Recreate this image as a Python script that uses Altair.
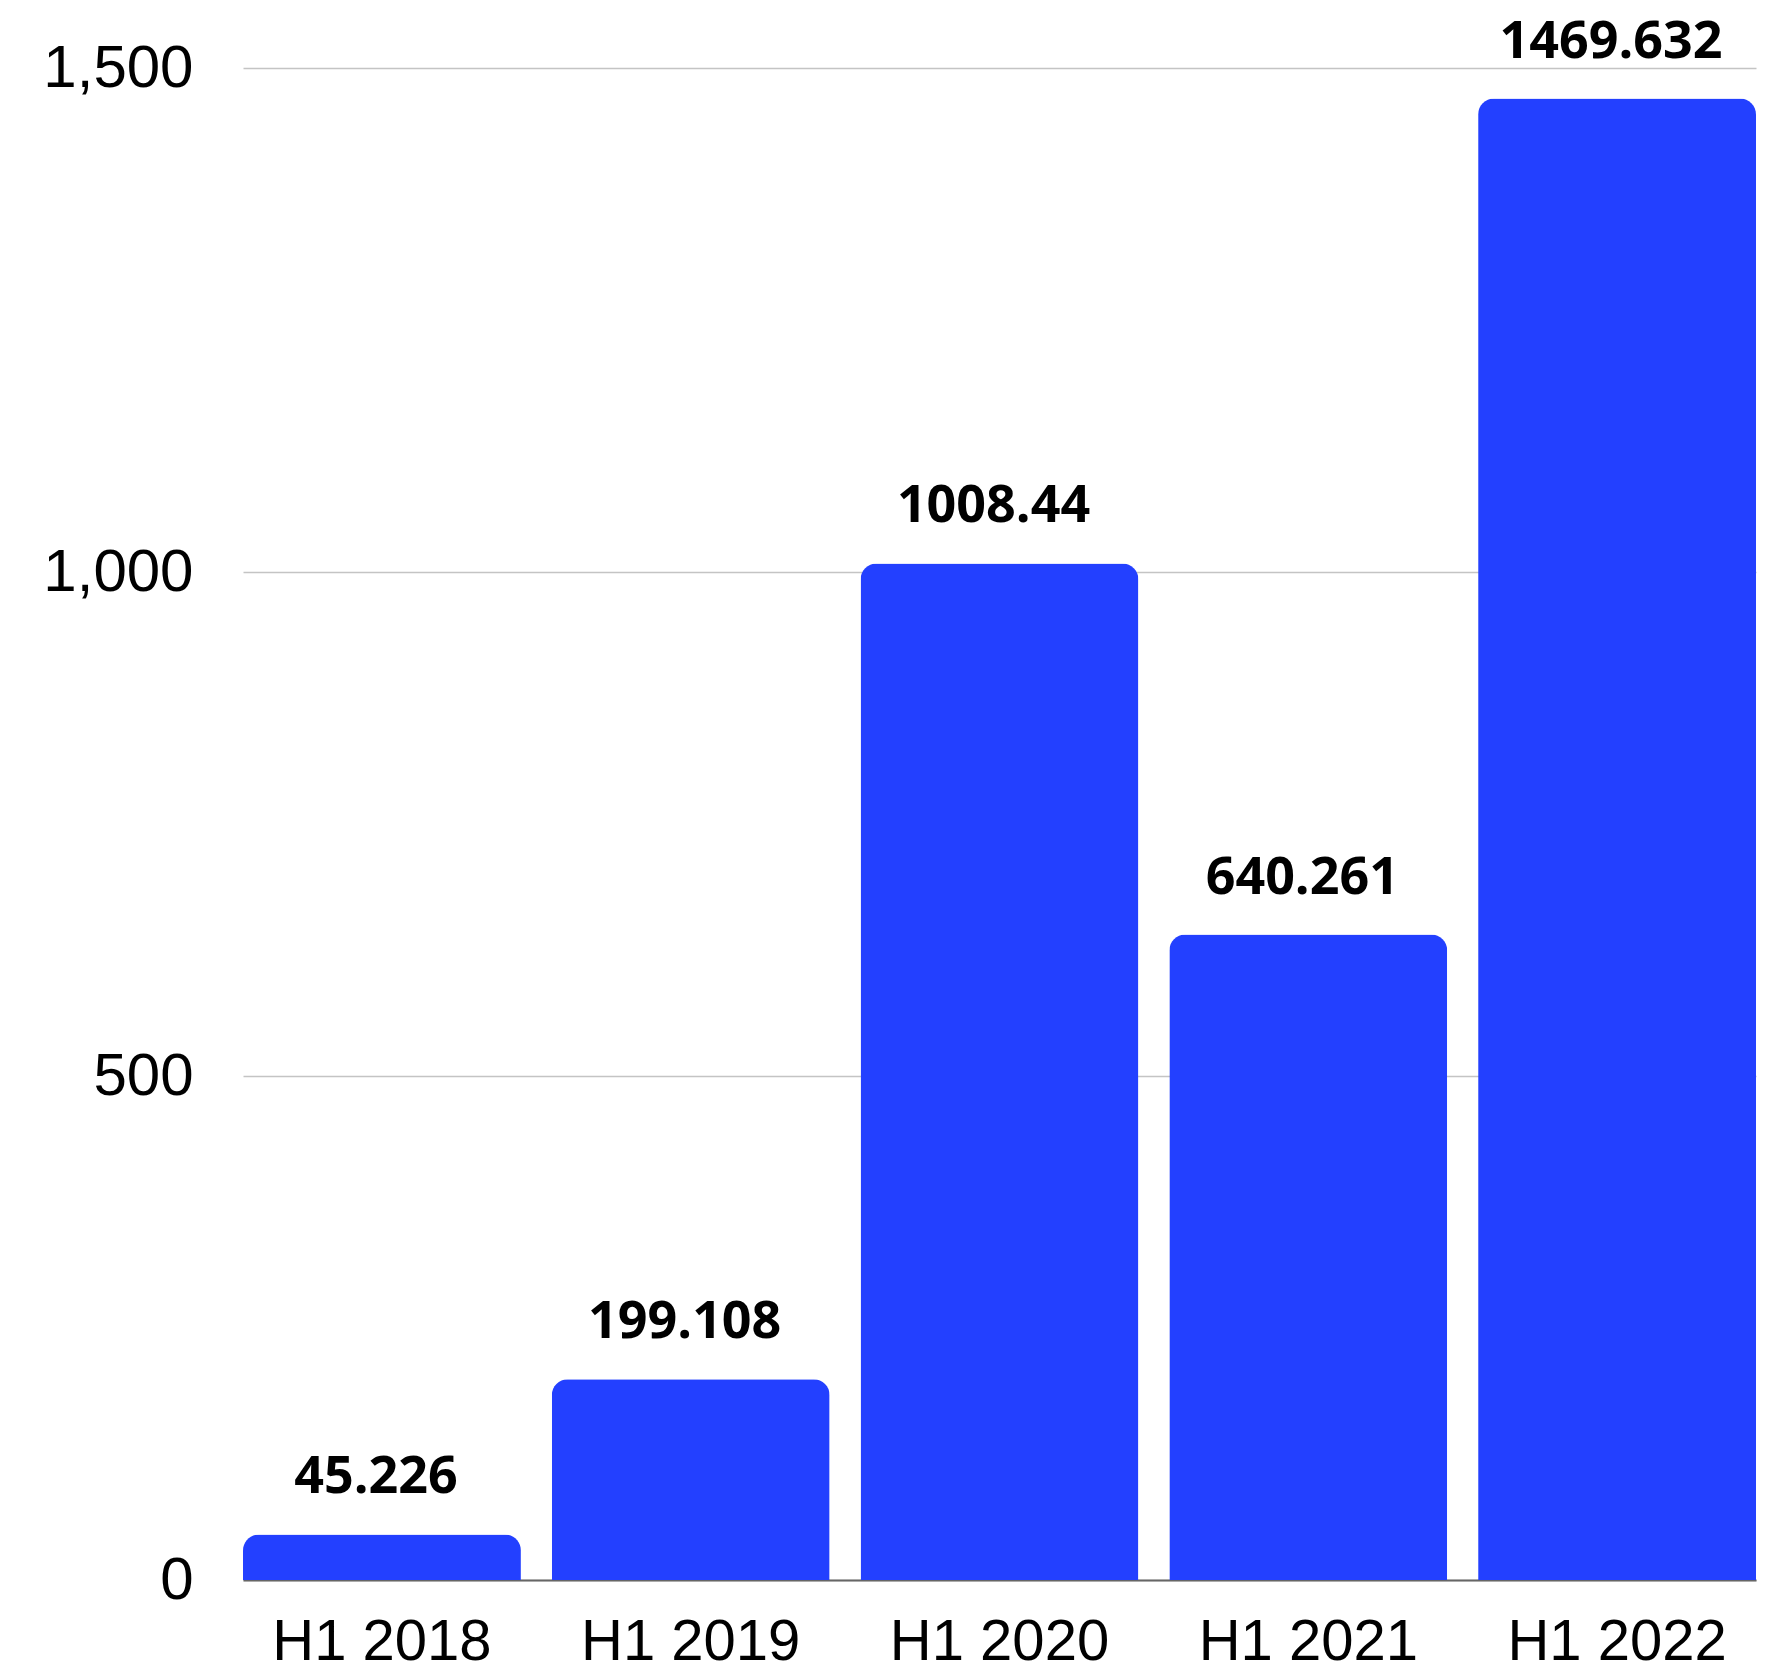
import altair as alt
import pandas as pd

periods = ["H1 2018", "H1 2019", "H1 2020", "H1 2021", "H1 2022"]
values = [45.226, 199.108, 1008.44, 640.261, 1469.632]
value_labels = ["45.226", "199.108", "1008.44", "640.261", "1469.632"]
y_ticks = [0, 500, 1000, 1500]

df = pd.DataFrame({"period": periods, "value": values, "label": value_labels})

x = alt.X(
    "period:N",
    sort=periods,
    title=None,
    scale=alt.Scale(paddingInner=0.1, paddingOuter=0),
    axis=alt.Axis(
        labelFont="Liberation Sans",
        labelFontSize=58,
        labelColor="#000000",
        labelAngle=0,
        labelBaseline="alphabetic",
        labelPadding=79,
        labelLimit=0,
        ticks=False,
        tickSize=0,
        domain=True,
        domainColor="#666666",
        domainWidth=2,
        grid=False,
    ),
)
y = alt.Y(
    "value:Q",
    title=None,
    scale=alt.Scale(domain=[0, 1500], nice=False),
    axis=alt.Axis(
        values=y_ticks,
        format=",d",
        labelFont="Liberation Sans",
        labelFontSize=60,
        labelColor="#000000",
        labelPadding=50,
        ticks=False,
        tickSize=0,
        domain=False,
        grid=True,
        gridColor="#c4c4c4",
        gridWidth=1.5,
    ),
)

bars = alt.Chart(df).mark_bar(
    color="#2340ff", cornerRadiusTopLeft=16, cornerRadiusTopRight=16
).encode(x=x, y=y)

text = alt.Chart(df).mark_text(
    font="Open Sans",
    fontWeight="bold",
    fontSize=52,
    color="#000000",
    baseline="alphabetic",
    dy=-41,
    dx=-6,
).encode(x=alt.X("period:N", sort=periods), y="value:Q", text="label:N")

chart = (
    alt.layer(bars, text)
    .properties(
        width=1513,
        height=1512,
        autosize=alt.AutoSizeParams(type="none"),
        padding={"left": 235, "top": 60, "right": 10, "bottom": 92},
    )
    .configure(background="#ffffff")
    .configure_view(stroke=None)
)

chart.save("out.html", embed_options={"renderer": "svg", "actions": False})
